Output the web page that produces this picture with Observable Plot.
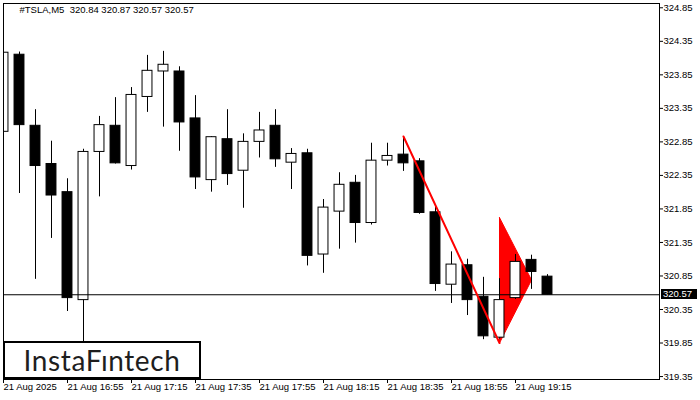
<!DOCTYPE html>
<html><head><meta charset="utf-8">
<script src="https://cdn.jsdelivr.net/npm/d3@7"></script>
<script src="https://cdn.jsdelivr.net/npm/@observablehq/plot@0.6"></script>
<style>
html,body{margin:0;padding:0;background:#fff;}
#wrap{position:relative;width:700px;height:400px;overflow:hidden;}
#logo{position:absolute;left:3px;top:341px;width:194px;height:34px;border:2px solid #000;background:#fff;display:flex;align-items:center;justify-content:center;font-family:Lato,"Open Sans",sans-serif;font-size:28px;letter-spacing:0.6px;color:#1e1e1e;z-index:2;}
#last{position:absolute;left:661px;width:36px;height:10px;background:#000;color:#fff;font-family:'Liberation Sans',Arial,sans-serif;font-size:9.5px;line-height:10px;padding-left:2px;box-sizing:border-box;z-index:2;}
</style></head><body>
<div id="wrap"><div id="logo">InstaFıntech</div><div id="last"></div></div>
<script>
const symbolInfo = "#TSLA,M5  320.84 320.87 320.57 320.57";
const opens  = [323.00,324.15,323.09,322.52,322.10,320.49,322.70,323.09,322.49,323.52,323.90,323.90,323.20,322.28,322.89,322.42,322.85,323.09,322.54,322.68,321.17,321.81,322.24,321.64,322.57,322.66,322.56,321.80,320.72,321.01,320.54,319.93,320.52,321.09,320.84];
const highs  = [324.63,324.19,323.33,322.86,322.30,322.74,323.23,323.51,323.66,324.14,324.20,323.97,323.54,322.93,323.33,322.97,323.29,323.33,322.75,322.74,321.99,322.39,322.35,322.83,322.83,322.92,322.60,321.89,321.21,321.10,320.83,320.81,321.17,321.16,320.87];
const lows   = [322.84,322.08,320.80,321.41,320.32,319.75,322.03,322.52,322.43,323.29,323.07,322.71,322.14,322.10,322.20,321.86,322.61,322.47,322.14,321.00,320.89,321.25,321.34,321.61,322.49,322.41,321.77,320.62,320.44,320.26,319.90,319.91,320.50,320.65,320.57];
const closes = [324.18,323.10,322.49,322.05,320.52,322.70,323.10,322.53,323.55,323.91,324.00,323.14,322.32,322.92,322.37,322.85,323.02,322.59,322.67,321.15,321.87,322.21,321.64,322.57,322.64,322.53,321.79,320.73,321.02,320.49,319.95,320.49,321.06,320.91,320.57];
const timeTickIndex = [0,4,8,12,16,20,24,28,32];
const timeTickLabels = ["21 Aug 2025","21 Aug 16:55","21 Aug 17:15","21 Aug 17:35","21 Aug 17:55","21 Aug 18:15","21 Aug 18:35","21 Aug 18:55","21 Aug 19:15"];
const priceTicks = [319.35,319.85,320.35,320.85,321.35,321.85,322.35,322.85,323.35,323.85,324.35,324.85];
const lastPrice = 320.57;
const flagpoleIndex = [25,31];
const flagpolePrice = [322.93,319.85];
const pennantIndex = [31,33,31,31];
const pennantPrice = [321.72,320.79,319.85,321.72];
const xDomain = [0,41];
const yDomain = [319.306,324.914];

const candles = opens.map((o,i)=>({i,o,h:highs[i],l:lows[i],c:closes[i]}));
const up = candles.filter(d=>d.c>=d.o);
const down = candles.filter(d=>d.c<d.o);
const flagpole = flagpoleIndex.map((i,k)=>({i,p:flagpolePrice[k]}));
const pennant = pennantIndex.map((i,k)=>({i,p:pennantPrice[k]}));
const labelMap = new Map(timeTickIndex.map((t,k)=>[t,timeTickLabels[k]]));
const halfW = 0.31;

const chart = Plot.plot({
  width:700, height:400,
  marginLeft:3, marginRight:41, marginTop:3, marginBottom:21,
  style:{fontFamily:"'Liberation Sans', Arial, sans-serif", fontSize:"9.5px", background:"#fff", color:"#000"},
  x:{type:"linear", domain:xDomain, axis:null},
  y:{type:"linear", domain:yDomain, axis:null},
  marks:[
    Plot.line(pennant,{x:"i",y:"p",fill:"#ff0000",stroke:"#ff0000",strokeWidth:1}),
    Plot.ruleX(candles,{x:"i",y1:"l",y2:"h",stroke:"#000",strokeWidth:1,clip:true}),
    Plot.rect(down,{x1:d=>d.i-halfW,x2:d=>d.i+halfW,y1:"o",y2:"c",fill:"#000",stroke:"#000",clip:true}),
    Plot.rect(up,{x1:d=>d.i-halfW,x2:d=>d.i+halfW,y1:"o",y2:"c",fill:"#fff",stroke:"#000",clip:true}),
    Plot.ruleY([lastPrice],{stroke:"#000",strokeWidth:1}),
    Plot.line(flagpole,{x:"i",y:"p",stroke:"#ff0000",strokeWidth:2}),
    Plot.frame({stroke:"#000"}),
    Plot.axisY(priceTicks,{anchor:"right",label:null,tickSize:3,tickPadding:1,tickFormat:d=>d.toFixed(2)}),
    Plot.axisX(timeTickIndex,{anchor:"bottom",label:null,tickSize:4,tickPadding:0,textAnchor:"start",tickFormat:d=>labelMap.get(d)}),
    Plot.text([symbolInfo],{frameAnchor:"top-left",dx:16,dy:3,textAnchor:"start",lineAnchor:"top",fill:"#000"})
  ]
});
document.getElementById("wrap").prepend(chart);
const lastEl = document.getElementById("last");
lastEl.textContent = lastPrice.toFixed(2);
lastEl.style.top = (chart.scale("y").apply(lastPrice) - 5) + "px";
</script>
</body></html>
